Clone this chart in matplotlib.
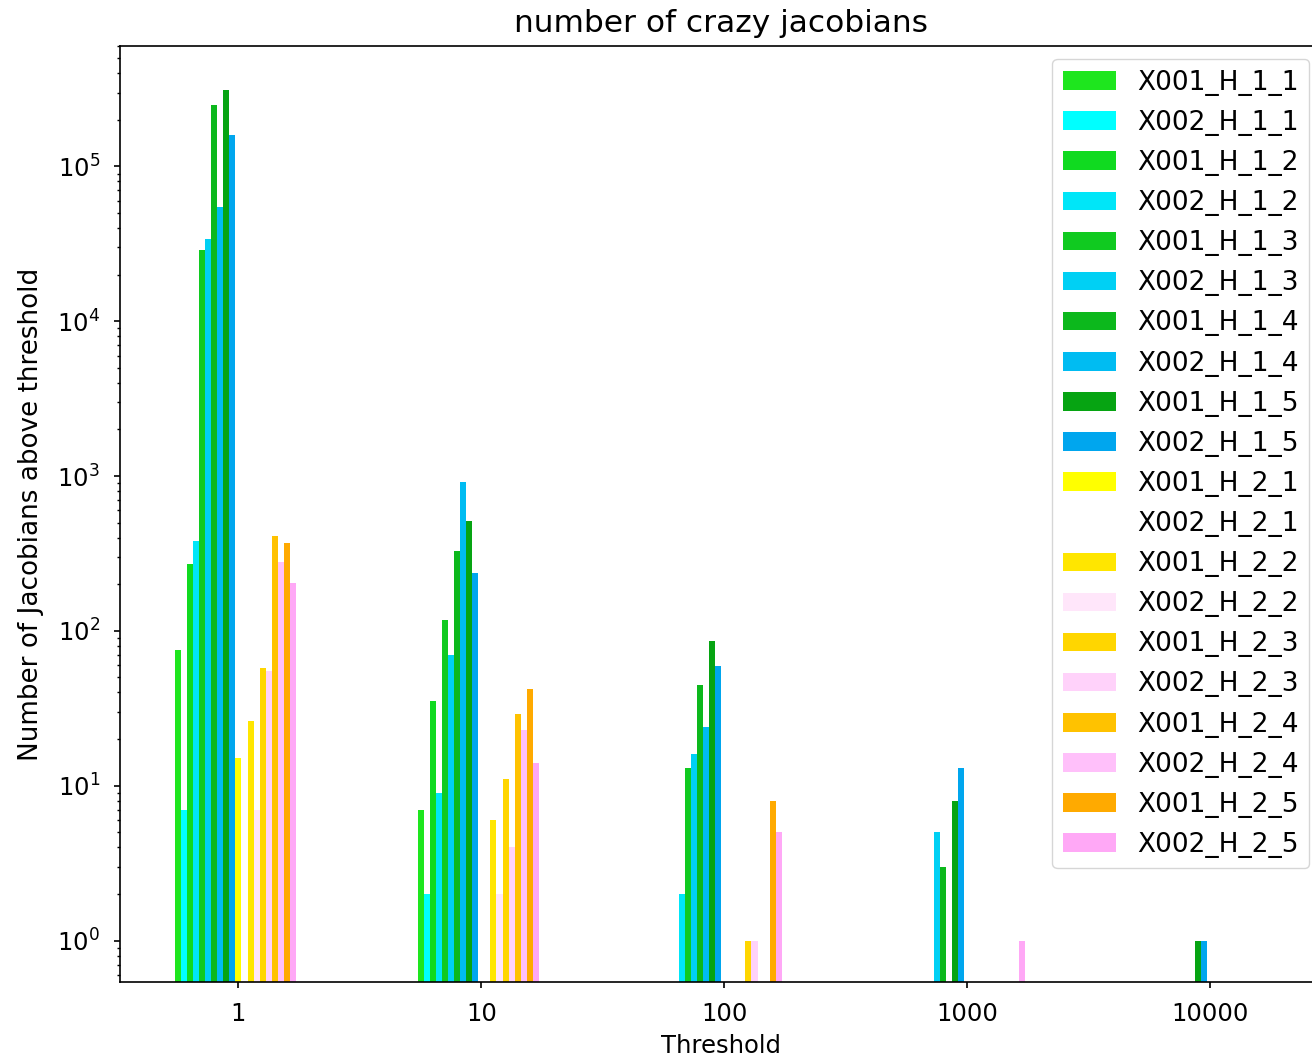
import numpy as np
import matplotlib
matplotlib.use("Agg")
import matplotlib.pyplot as plt

# thresholds on the x axis
thresholds = ["1", "10", "100", "1000", "10000"]

# series names, in plotting order
series = ["X001_H_1_1", "X002_H_1_1", "X001_H_1_2", "X002_H_1_2", "X001_H_1_3",
          "X002_H_1_3", "X001_H_1_4", "X002_H_1_4", "X001_H_1_5", "X002_H_1_5",
          "X001_H_2_1", "X002_H_2_1", "X001_H_2_2", "X002_H_2_2", "X001_H_2_3",
          "X002_H_2_3", "X001_H_2_4", "X002_H_2_4", "X001_H_2_5", "X002_H_2_5"]

# counts per threshold (1, 10, 100, 1000, 10000)
X001_H_1_1 = [75, 7, 0, 0, 0]
X002_H_1_1 = [7, 2, 0, 0, 0]
X001_H_1_2 = [270, 35, 0, 0, 0]
X002_H_1_2 = [380, 9, 2, 0, 0]
X001_H_1_3 = [29000, 118, 13, 0, 0]
X002_H_1_3 = [34000, 70, 16, 5, 0]
X001_H_1_4 = [250000, 330, 45, 3, 0]
X002_H_1_4 = [55000, 920, 24, 0, 0]
X001_H_1_5 = [310000, 510, 86, 8, 1]
X002_H_1_5 = [160000, 237, 59, 13, 1]
X001_H_2_1 = [15, 0, 0, 0, 0]
X002_H_2_1 = [7, 0, 0, 0, 0]
X001_H_2_2 = [26, 6, 0, 0, 0]
X002_H_2_2 = [7, 2, 0, 0, 0]
X001_H_2_3 = [58, 11, 1, 0, 0]
X002_H_2_3 = [55, 4, 1, 0, 0]
X001_H_2_4 = [410, 29, 0, 0, 0]
X002_H_2_4 = [280, 23, 0, 0, 0]
X001_H_2_5 = [370, 42, 8, 0, 0]
X002_H_2_5 = [205, 14, 5, 1, 0]

values = [X001_H_1_1, X002_H_1_1, X001_H_1_2, X002_H_1_2, X001_H_1_3,
          X002_H_1_3, X001_H_1_4, X002_H_1_4, X001_H_1_5, X002_H_1_5,
          X001_H_2_1, X002_H_2_1, X001_H_2_2, X002_H_2_2, X001_H_2_3,
          X002_H_2_3, X001_H_2_4, X002_H_2_4, X001_H_2_5, X002_H_2_5]

colors = ["#1ee61e", "#00ffff", "#10da20", "#00e6f8", "#10ca20",
          "#00d0f4", "#0cb81c", "#00bcf2", "#06a412", "#00a6ee",
          "#ffff00", "#ffffff", "#ffe600", "#ffe6fa", "#ffd600",
          "#ffd2fa", "#ffc200", "#ffc0fa", "#ffaa00", "#ffa8f6"]

fig = plt.figure(figsize=(13.12, 10.61), dpi=100)
ax = fig.add_axes([0.0915, 0.0745, 0.9162, 0.8822])

x = np.arange(len(thresholds))
w = 0.025
for i, name in enumerate(series):
    h = np.array(values[i], dtype=float)
    h[h == 0] = np.nan
    ax.bar(x + (i - 10) * w, h, w, color=colors[i], label=name, log=True)

ax.set_yscale("log")
ax.set_ylim(0.54, 6.0e5)
ax.set_xlim(-0.4875, 4.4625)
ax.set_xticks(x)
ax.set_xticklabels(thresholds)
ax.tick_params(labelsize=17.5, width=1.2, length=4, pad=10.5)
ax.tick_params(which="minor", width=1.0, length=2.5)
for s in ax.spines.values():
    s.set_linewidth(1.2)

ax.set_xlabel("Threshold", fontsize=17.5, labelpad=6)
ax.set_ylabel("Number of Jacobians above threshold", fontsize=18.9, labelpad=9)
ax.set_title("number of crazy jacobians", fontsize=22.5, pad=10)
ax.legend(loc="upper right", fontsize=19, labelspacing=0.535)

fig.savefig("out.png", dpi=100)
